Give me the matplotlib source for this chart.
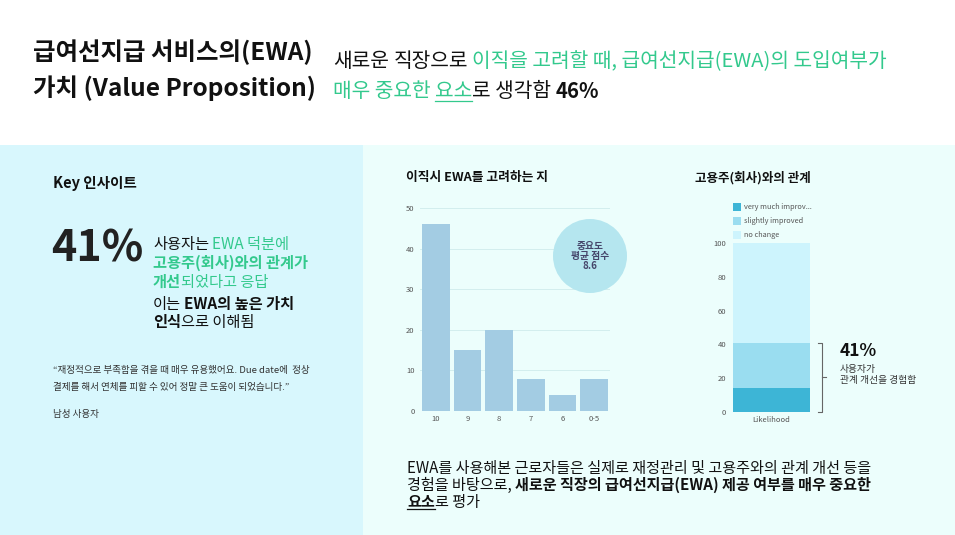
import matplotlib
matplotlib.use("Agg")
import matplotlib.pyplot as plt
from matplotlib.patches import Rectangle, Circle

FAM = ['Noto Sans CJK KR', 'DejaVu Sans']
plt.rcParams['font.family'] = FAM

W, H = 955, 535
GREEN = '#33C98D'
BLACK = '#111111'

# data
score_labels = ['10', '9', '8', '7', '6', '0-5']
score_counts = [46, 15, 20, 8, 4, 8]
score_mean = 8.6

rel_labels = ['very much improv...', 'slightly improved', 'no change']
rel_values = [14, 27, 59]
rel_colors = ['#3DB5D6', '#9ADDF0', '#CDF4FD']
rel_category = 'Likelihood'

fig = plt.figure(figsize=(W / 100, H / 100), dpi=100)
fig.patch.set_facecolor('white')


def px_axes(left, top, right, bottom, **kw):
    return fig.add_axes([left / W, 1 - bottom / H, (right - left) / W, (bottom - top) / H], **kw)


# background panels
bg = px_axes(0, 0, W, H, zorder=0)
bg.set_xlim(0, W)
bg.set_ylim(H, 0)
bg.axis('off')
bg.add_patch(Rectangle((0, 145), 363, H - 145, color='#D8F7FD', lw=0))
bg.add_patch(Rectangle((363, 145), W - 363, H - 145, color='#ECFEFC', lw=0))

# bar chart: 이직시 EWA를 고려하는 지
ax = px_axes(420, 208, 610, 411, zorder=1)
ax.set_facecolor('none')
x = range(len(score_labels))
ax.bar(x, score_counts, width=0.87, color='#A3CCE3', zorder=2)
ax.set_xlim(-0.5, len(score_labels) - 0.5)
ax.set_ylim(0, 50)
ax.set_yticks([0, 10, 20, 30, 40, 50])
ax.set_xticks(list(x))
ax.set_xticklabels(score_labels)
ax.grid(axis='y', color='#D3EEEE', lw=0.7, zorder=0)
for s in ax.spines.values():
    s.set_visible(False)
ax.tick_params(length=0, labelsize=5.5, labelcolor='#555555', pad=4)
ax.tick_params(axis='x', pad=3)

# stacked bar: 고용주(회사)와의 관계
ax2 = px_axes(733, 243, 810, 412, zorder=1)
ax2.set_facecolor('none')
bottom = 0
for v, c in zip(rel_values, rel_colors):
    ax2.bar([0], [v], bottom=bottom, width=1.0, color=c, zorder=2)
    bottom += v
ax2.set_xlim(-0.5, 0.5)
ax2.set_ylim(0, 100)
ax2.set_yticks([0, 20, 40, 60, 80, 100])
ax2.set_xticks([0])
ax2.set_xticklabels([rel_category])
for s in ax2.spines.values():
    s.set_visible(False)
ax2.tick_params(length=0, labelsize=5.5, labelcolor='#555555', pad=5)
ax2.tick_params(axis='x', pad=3)

improved = rel_values[0] + rel_values[1]
tr = ax2.get_yaxis_transform()
bk = dict(color='#666666', lw=0.8, transform=tr, clip_on=False)
ax2.plot([1.104, 1.156, 1.156, 1.104], [improved, improved, 0, 0], **bk)
ax2.plot([1.156, 1.21], [improved / 2, improved / 2], **bk)

# overlay for text
ov = px_axes(0, 0, W, H, zorder=3)
ov.set_facecolor('none')
ov.set_xlim(0, W)
ov.set_ylim(H, 0)
ov.axis('off')
renderer = fig.canvas.get_renderer()


def space_w(size, weight):
    a = ov.text(0, 0, '가 가', fontsize=size, fontweight=weight)
    b = ov.text(0, 0, '가가', fontsize=size, fontweight=weight)
    w = a.get_window_extent(renderer).width - b.get_window_extent(renderer).width
    a.remove()
    b.remove()
    return w


def runs(x0, y, parts, size):
    # parts: (text, color, weight, underline); ' ' alone means a space
    x = x0
    for s, color, weight, ul in parts:
        if s == ' ':
            x += space_w(size, weight)
            continue
        t = ov.text(x, y, s, fontsize=size, color=color, fontweight=weight,
                    ha='left', va='center_baseline')
        w = t.get_window_extent(renderer).width
        if ul:
            yy = y + size * 0.8
            ov.plot([x, x + w], [yy, yy], color=color, lw=0.9)
        x += w


# header
ov.text(33, 52, '급여선지급 서비스의(EWA)', fontsize=17.6, fontweight='heavy', color=BLACK,
        ha='left', va='center')
ov.text(33, 88, '가치 (Value Proposition)', fontsize=17.6, fontweight='heavy', color=BLACK,
        ha='left', va='center')
n = 'normal'
b = 'bold'
hs = 14.6
runs(333, 59, [('새로운', BLACK, n, 0), (' ', BLACK, n, 0), ('직장으로', BLACK, n, 0), (' ', BLACK, n, 0),
               ('이직을 고려할 때, 급여선지급(EWA)의 도입여부가', GREEN, n, 0)], hs)
runs(333, 89, [('매우 중요한', GREEN, n, 0), (' ', GREEN, n, 0), ('요소', GREEN, n, 1),
               ('로 생각함', BLACK, n, 0), (' ', BLACK, n, 0), ('46%', BLACK, b, 0)], hs)

# left panel
ov.text(53, 183, 'Key 인사이트', fontsize=10.5, fontweight='bold', color=BLACK, va='center')
ov.text(51, 248, '41%', fontsize=31, fontweight='heavy', color='#222222', va='center')
fs = 11
runs(153, 242, [('사용자는', BLACK, n, 0), (' ', BLACK, n, 0), ('EWA 덕분에', GREEN, n, 0)], fs)
runs(153, 261, [('고용주(회사)와의 관계가', GREEN, b, 0)], fs)
runs(153, 280, [('개선', GREEN, b, 0), ('되었다고 응답', GREEN, n, 0)], fs)
runs(153, 303, [('이는', BLACK, n, 0), (' ', BLACK, n, 0), ('EWA의 높은 가치', BLACK, b, 0)], fs)
runs(153, 321, [('인식', BLACK, b, 0), ('으로 이해됨', BLACK, n, 0)], fs)

qs = 6.9
ov.text(53, 370, '“재정적으로 부족함을 겪을 때 매우 유용했어요. Due date에  정상', fontsize=qs,
        color='#333333', style='italic', va='center')
ov.text(53, 387, '결제를 해서 연체를 피할 수 있어 정말 큰 도움이 되었습니다.”', fontsize=qs,
        color='#333333', style='italic', va='center')
ov.text(53, 415, '남성 사용자', fontsize=qs, color='#333333', style='italic', va='center')

# chart titles
ov.text(406, 178, '이직시 EWA를 고려하는 지', fontsize=9.2, fontweight='bold', color=BLACK, va='center')
ov.text(695, 178, '고용주(회사)와의 관계', fontsize=9, fontweight='bold', color=BLACK, va='center')

# mean score bubble
ov.add_patch(Circle((590, 256), 37, color='#B5E6EF', lw=0))
ov.text(590, 256, f'중요도\n평균 점수\n{score_mean}', fontsize=7, fontweight='bold', color='#45456A',
        ha='center', va='center', linespacing=1.05)

# legend of stacked bar
for i, (lab, c) in enumerate(zip(rel_labels, rel_colors)):
    yy = 207 + i * 14
    ov.add_patch(Rectangle((733, yy - 4), 8, 8, color=c, lw=0))
    ov.text(744, yy, lab, fontsize=5.3, color='#555555', va='center')

ov.text(840, 351, f'{improved}%', fontsize=12.5, fontweight='heavy', color=BLACK, va='center')
ov.text(840, 369, '사용자가', fontsize=7, color='#333333', va='center')
ov.text(840, 380, '관계 개선을 경험함', fontsize=7, color='#333333', va='center')

# bottom text
bs = 10.9
runs(407, 466, [('EWA를 사용해본 근로자들은 실제로 재정관리 및 고용주와의 관계 개선 등을', BLACK, n, 0)], bs)
runs(407, 483, [('경험을 바탕으로,', BLACK, n, 0), (' ', BLACK, n, 0),
                ('새로운 직장의 급여선지급(EWA) 제공 여부를 매우 중요한', BLACK, b, 0)], bs)
runs(407, 500, [('요소', BLACK, b, 1), ('로 평가', BLACK, n, 0)], bs)

fig.savefig('out.png', dpi=100)
